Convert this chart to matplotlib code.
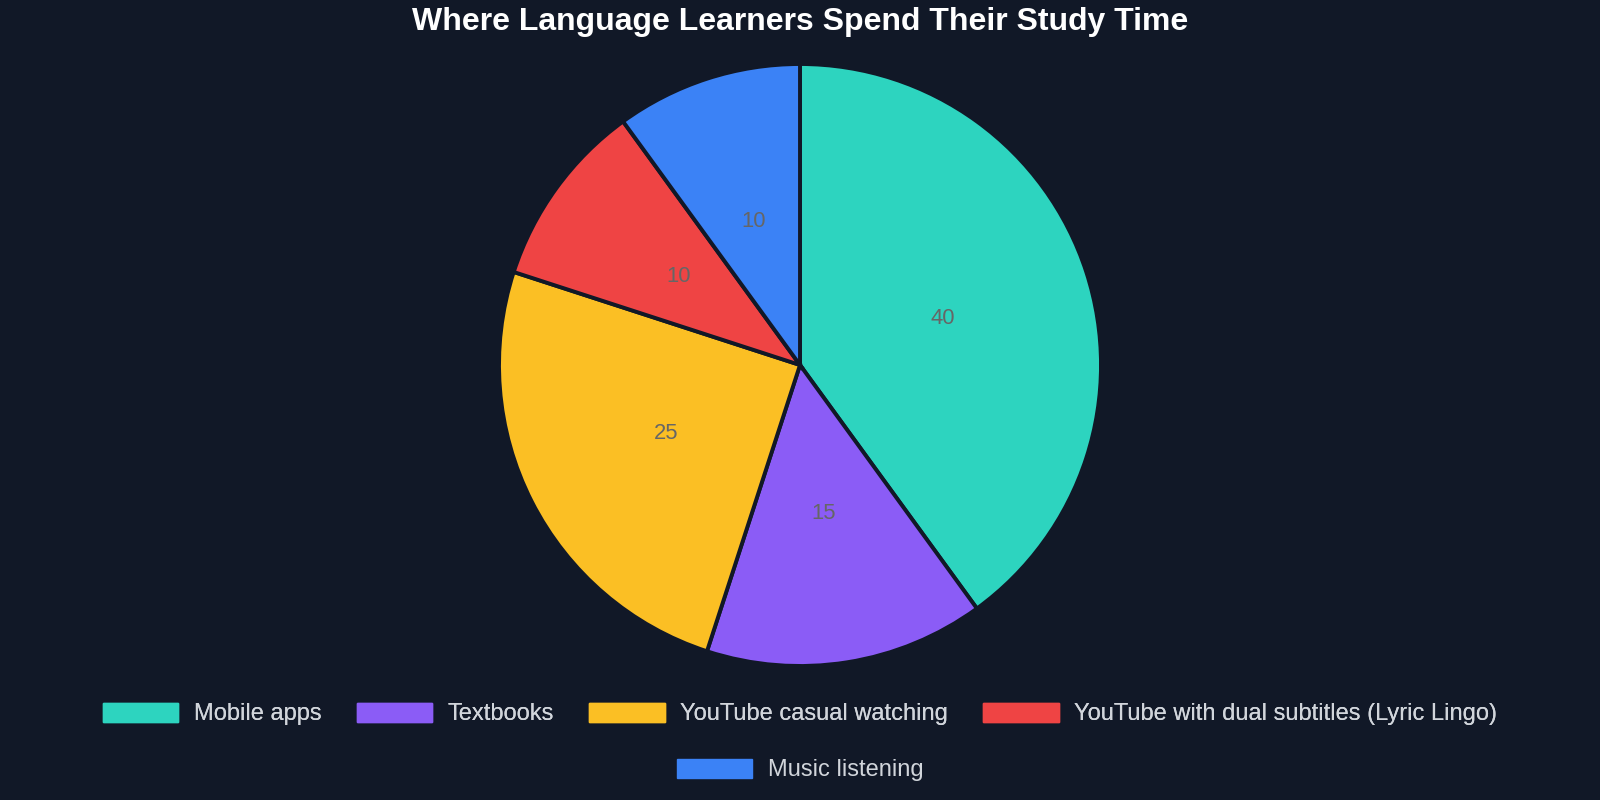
import matplotlib
matplotlib.use("Agg")
import matplotlib.pyplot as plt
from matplotlib.patches import Patch

categories = ["Mobile apps", "Textbooks", "YouTube casual watching",
              "YouTube with dual subtitles (Lyric Lingo)", "Music listening"]
values = [40, 15, 25, 10, 10]
colors = ["#2dd4bf", "#8b5cf6", "#fbbf24", "#ef4444", "#3b82f6"]
title = "Where Language Learners Spend Their Study Time"

bg = "#111827"
plt.rcParams['font.family'] = ['Liberation Sans', 'DejaVu Sans']

W, H = 1600, 800
fig = plt.figure(figsize=(16, 8), dpi=100, facecolor=bg)

cx, cy, r = 800, 365, 301
ax = fig.add_axes([(cx - r) / W, (H - cy - r) / H, 2 * r / W, 2 * r / H])
ax.set_facecolor(bg)
wedges, texts, autotexts = ax.pie(
    values, colors=colors, startangle=90, counterclock=False,
    autopct=lambda p: f"{p * sum(values) / 100:.0f}", pctdistance=0.5,
    wedgeprops=dict(edgecolor=bg, linewidth=2.8),
    textprops=dict(color="#666666", fontsize=15.8))
ax.set_xlim(-1.0, 1.0)
ax.set_ylim(-1.0, 1.0)
ax.set_aspect("equal")
ax.axis("off")

fig.text(0.5, 1 - 22 / H, title, ha="center", va="center",
         fontsize=23, fontweight="bold", color="white")

handles = [Patch(facecolor=c, edgecolor=c) for c in colors]
common = dict(frameon=False, fontsize=17, labelcolor="#d1d5db",
              handlelength=3.2, handleheight=0.85, handletextpad=0.65,
              columnspacing=1.5, borderpad=0, borderaxespad=0)
leg1 = fig.legend(handles[:4], categories[:4], ncol=4, loc="center",
                  bbox_to_anchor=(0.5, 1 - 714 / H), **common)
fig.add_artist(leg1)
leg2 = fig.legend(handles[4:], categories[4:], ncol=1, loc="center",
                  bbox_to_anchor=(0.5, 1 - 770 / H), **common)

fig.savefig("out.png", dpi=100, facecolor=bg)
